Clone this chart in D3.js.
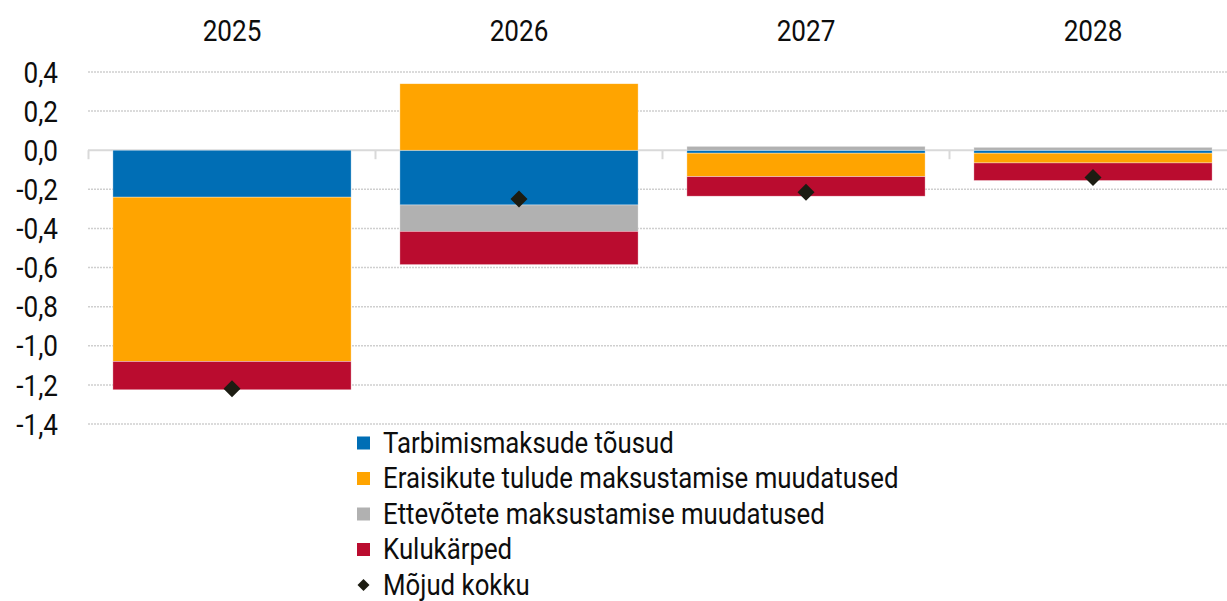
<!DOCTYPE html>
<html>
<head>
<meta charset="utf-8">
<script src="https://cdn.jsdelivr.net/npm/d3@7"></script>
<style>
  html, body { margin: 0; padding: 0; background: #fff; }
  svg { display: block; font-family: Roboto, "Noto Sans", sans-serif; }
</style>
</head>
<body>
<svg id="chart" width="1227" height="601"></svg>
<script>
// Fiscal measures by year, percentage points
const years = ["2025", "2026", "2027", "2028"];
const tarbimismaksud = [-0.24, -0.28, -0.015, -0.015];
const eraisikuteTulud = [-0.84, 0.34, -0.12, -0.05];
const ettevotted = [0.0, -0.135, 0.02, 0.015];
const kulukarped = [-0.145, -0.17, -0.10, -0.09];
const mojudKokku = [-1.22, -0.25, -0.215, -0.14];

const seriesNames = [
  "Tarbimismaksude tõusud",
  "Eraisikute tulude maksustamise muudatused",
  "Ettevõtete maksustamise muudatused",
  "Kulukärped"
];
const totalName = "Mõjud kokku";
const seriesColors = ["#006eb5", "#ffa400", "#b1b1b1", "#ba0c2f"];
const totalColor = "#1c1c12";

const yTicks = [0.4, 0.2, 0.0, -0.2, -0.4, -0.6, -0.8, -1.0, -1.2, -1.4];
const yTickLabels = ["0,4", "0,2", "0,0", "-0,2", "-0,4", "-0,6", "-0,8", "-1,0", "-1,2", "-1,4"];

const seriesValues = [tarbimismaksud, eraisikuteTulud, ettevotted, kulukarped];
const rows = years.map((y, i) => {
  const r = { year: y };
  seriesNames.forEach((n, k) => { r[n] = seriesValues[k][i]; });
  return r;
});

const svg = d3.select("#chart");
const FS = 30;           // font size
const SX = 0.87;         // horizontal squeeze for the condensed look
const SX_LEGEND = 0.86;
const TEXT = "#0d0d0d";

const x = d3.scaleBand().domain(years).range([88.5, 1236.5]).paddingInner(0.17).paddingOuter(0.085);
const y = d3.scaleLinear().domain([-1.4, 0.4]).range([424, 72]);

// gridlines
svg.append("g").selectAll("line")
  .data(yTicks.filter(v => v !== 0))
  .join("line")
  .attr("x1", 88).attr("x2", 1227)
  .attr("y1", d => y(d)).attr("y2", d => y(d))
  .attr("stroke", "#cfcfcf").attr("stroke-width", 1.5)
  .attr("stroke-dasharray", "2,1");

// y axis labels
const yAxis = d3.axisLeft(y).tickValues(yTicks)
  .tickFormat((d, i) => yTickLabels[i]).tickSize(0).tickPadding(0);
const gy = svg.append("g").attr("transform", "translate(58,0)").call(yAxis);
gy.select(".domain").remove();
gy.selectAll("text")
  .attr("font-size", FS).attr("font-family", "Roboto").attr("fill", TEXT)
  .attr("x", 0).attr("dy", "0.34em")
  .attr("transform", `scale(${SX},1)`);

// zero line with category dividers
const zy = y(0);
svg.append("line").attr("x1", 88).attr("x2", 1227).attr("y1", zy).attr("y2", zy)
  .attr("stroke", "#d9d9d9").attr("stroke-width", 2);
const step = x.step();
const bounds = years.map((d, i) => x.range()[0] + i * step);
svg.append("g").selectAll("line").data(bounds).join("line")
  .attr("x1", d => d).attr("x2", d => d)
  .attr("y1", zy).attr("y2", zy + 9)
  .attr("stroke", "#d9d9d9").attr("stroke-width", 2);

// stacked bars
const stack = d3.stack().keys(seriesNames).offset(d3.stackOffsetDiverging);
const stacked = stack(rows);
svg.append("g").selectAll("g").data(stacked).join("g")
  .attr("fill", (d, i) => seriesColors[i])
  .selectAll("rect").data(d => d).join("rect")
  .attr("x", d => x(d.data.year))
  .attr("width", x.bandwidth())
  .attr("y", d => y(Math.max(d[0], d[1])))
  .attr("height", d => Math.abs(y(d[0]) - y(d[1])))
  .attr("stroke", "#ffffff").attr("stroke-opacity", 0.6).attr("stroke-width", 0.6);

// totals as diamonds
const dSize = 8.5;
svg.append("g").selectAll("path").data(mojudKokku).join("path")
  .attr("d", `M0,${-dSize}L${dSize},0L0,${dSize}L${-dSize},0Z`)
  .attr("transform", (d, i) => `translate(${x(years[i]) + x.bandwidth() / 2},${y(d)})`)
  .attr("fill", totalColor);

// year labels on top
svg.append("g").selectAll("text").data(years).join("text")
  .attr("transform", d => `translate(${x(d) + x.bandwidth() / 2},41) scale(${SX},1)`)
  .attr("text-anchor", "middle")
  .attr("font-size", FS).attr("fill", TEXT)
  .text(d => d);

// legend
const legend = svg.append("g").attr("transform", "translate(357,443)");
const legendItems = seriesNames.map((n, i) => ({ name: n, color: seriesColors[i], type: "rect" }))
  .concat([{ name: totalName, color: totalColor, type: "diamond" }]);
const li = legend.selectAll("g").data(legendItems).join("g")
  .attr("transform", (d, i) => `translate(0,${i * 35.5})`);
li.filter(d => d.type === "rect").append("rect")
  .attr("x", 0).attr("y", -6.5).attr("width", 13).attr("height", 13)
  .attr("fill", d => d.color);
li.filter(d => d.type === "diamond").append("path")
  .attr("d", "M6.5,-6L12.5,0L6.5,6L0.5,0Z")
  .attr("fill", d => d.color);
li.append("text")
  .attr("transform", `translate(26,0) scale(${SX_LEGEND},1)`)
  .attr("dy", "0.32em")
  .attr("font-size", FS).attr("fill", TEXT)
  .text(d => d.name);
</script>
</body>
</html>
